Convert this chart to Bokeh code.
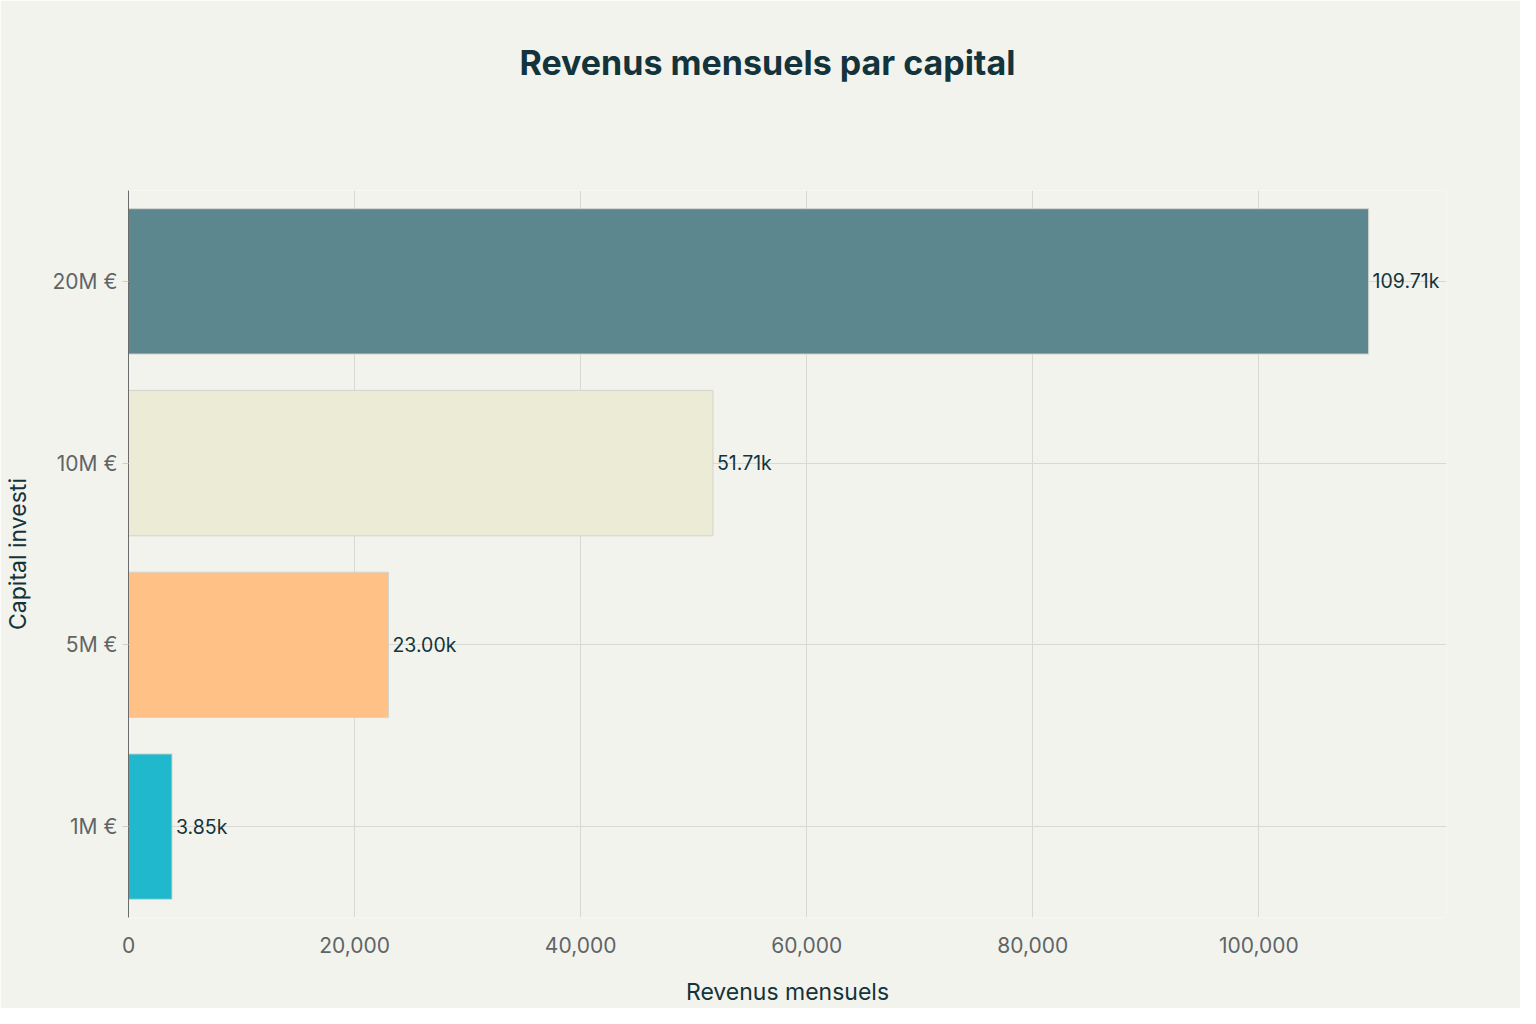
from bokeh.plotting import figure
from bokeh.models import ColumnDataSource, Title, NumeralTickFormatter, FixedTicker, LabelSet
from bokeh.core.properties import value
from bokeh.embed import file_html
from bokeh.resources import INLINE

capitals = ["1M €", "5M €", "10M €", "20M €"]
revenus = [3850, 23000, 51710, 109710]
labels = ["3.85k", "23.00k", "51.71k", "109.71k"]
colors = ["#1FB8CD", "#FFC185", "#ECEBD5", "#5D878F"]
x_ticks = [0, 20000, 40000, 60000, 80000, 100000]

FONT = "Inter"
BG = "#F3F3EE"

src = ColumnDataSource(dict(cap=capitals, rev=revenus, lab=labels, col=colors))

# frame a bit wider on the right so the last value label is not clipped
p = figure(y_range=capitals, x_range=(0, 116600),
           width=1520, height=1008,
           output_backend="svg", toolbar_location=None,
           background_fill_color=BG, border_fill_color=BG,
           min_border_left=128, min_border_right=74,
           min_border_top=190, min_border_bottom=91)
p.outline_line_color = None

p.hbar(y="cap", right="rev", left=0, height=0.8, source=src,
       fill_color="col", line_color="#d4d4cc", line_width=1)

lbl = LabelSet(x="rev", y="cap", text="lab", source=src,
               x_offset=4, text_baseline="middle", text_align="left",
               text_font=value(FONT), text_font_size="19.5px", text_color="#13343B")
p.add_layout(lbl)

# empty spacer title to push the real title up
spacer = Title(text=" ", text_font_size="1px", standoff=105)
p.add_layout(spacer, "above")

# centred on the whole page rather than on the frame
t = Title(text="Revenus mensuels par capital", align="left", offset=391,
          text_font=FONT, text_font_size="34px", text_font_style="bold",
          text_color="#13343B", standoff=0)
p.add_layout(t, "above")

p.xgrid.grid_line_color = "#d9d9d3"
p.ygrid.grid_line_color = "#d9d9d3"
p.xgrid.ticker = FixedTicker(ticks=x_ticks)

p.xaxis.ticker = FixedTicker(ticks=x_ticks)
p.xaxis.formatter = NumeralTickFormatter(format="0,0")
p.xaxis.axis_line_color = None
p.xaxis.major_tick_line_color = None
p.xaxis.minor_tick_line_color = None
p.xaxis.major_label_standoff = 13
p.xaxis.axis_label = "Revenus mensuels"
p.xaxis.axis_label_standoff = 22

p.yaxis.axis_line_color = "#6b6b6b"
p.yaxis.major_tick_line_color = "#cfcfc9"
p.yaxis.major_tick_out = 6
p.yaxis.major_tick_in = 0
p.yaxis.major_label_standoff = 5
p.yaxis.axis_label = "Capital investi"
p.yaxis.axis_label_standoff = 18

for ax in (p.xaxis, p.yaxis):
    ax.major_label_text_font = FONT
    ax.major_label_text_font_size = "21px"
    ax.major_label_text_color = "#5f6566"
    ax.axis_label_text_font = FONT
    ax.axis_label_text_font_size = "23px"
    ax.axis_label_text_font_style = "normal"
    ax.axis_label_text_color = "#13343B"

open("out.html", "w").write(file_html(p, INLINE))
